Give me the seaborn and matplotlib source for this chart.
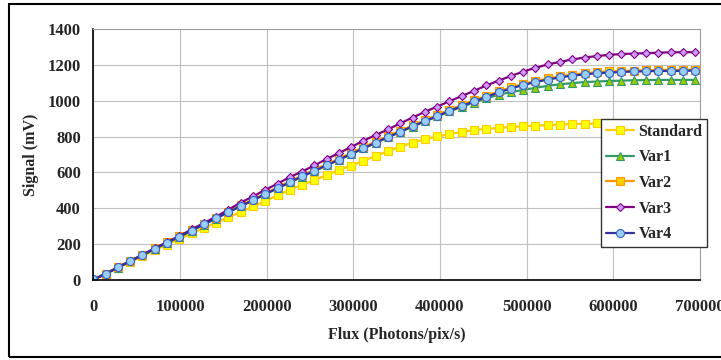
import numpy as np
import pandas as pd
import matplotlib
matplotlib.use("Agg")
import matplotlib.pyplot as plt
from matplotlib.patches import Rectangle
import seaborn as sns

flux = [0, 14170, 28340, 42510, 56680, 70850, 85020, 99190, 113360, 127530,
        141700, 155870, 170040, 184210, 198380, 212550, 226720, 240890, 255060, 269230,
        283400, 297570, 311740, 325910, 340080, 354250, 368420, 382590, 396760, 410930,
        425100, 439270, 453440, 467610, 481780, 495950, 510120, 524290, 538460, 552630,
        566800, 580970, 595140, 609310, 623480, 637650, 651820, 665990, 680160, 694330]

standard = [0, 33, 67, 100, 133, 166, 198, 228, 260, 290,
            320, 350, 380, 410, 440, 472, 503, 530, 557, 585,
            613, 638, 666, 692, 718, 744, 766, 786, 801, 814,
            826, 836, 843, 848, 853, 857, 861, 864, 867, 870,
            872, 873, 874, 875, 875, 875, 875, 875, 875, 875]

var1 = [2, 34, 69, 104, 138, 173, 207, 240, 275, 309,
        343, 378, 411, 444, 478, 511, 544, 577, 608, 639,
        670, 702, 734, 765, 796, 826, 856, 885, 912, 940,
        966, 990, 1013, 1033, 1048, 1060, 1072, 1083, 1092, 1098,
        1104, 1107, 1110, 1112, 1114, 1115, 1116, 1116, 1116, 1116]

var2 = [2, 35, 71, 106, 140, 176, 210, 243, 278, 313,
        347, 382, 416, 449, 483, 517, 550, 583, 615, 646,
        677, 709, 741, 772, 803, 833, 863, 892, 920, 949,
        976, 1002, 1027, 1052, 1074, 1094, 1110, 1124, 1136, 1146,
        1153, 1159, 1163, 1166, 1168, 1170, 1171, 1172, 1172, 1173]

var3 = [0, 35, 70, 106, 141, 177, 211, 245, 282, 318,
        353, 392, 432, 466, 503, 537, 574, 605, 639, 675,
        708, 742, 777, 809, 840, 874, 906, 938, 967, 997,
        1026, 1055, 1085, 1112, 1138, 1162, 1184, 1202, 1217, 1230,
        1241, 1249, 1256, 1260, 1263, 1265, 1268, 1270, 1270, 1271]

var4 = [3, 35, 70, 105, 139, 174, 208, 241, 276, 310,
        344, 379, 412, 445, 479, 512, 545, 578, 609, 640,
        671, 703, 735, 766, 797, 827, 857, 886, 914, 943,
        970, 996, 1021, 1046, 1068, 1088, 1104, 1118, 1130, 1140,
        1147, 1153, 1157, 1160, 1163, 1164, 1166, 1166, 1167, 1168]

series_names = ["Standard", "Var1", "Var2", "Var3", "Var4"]
x_ticks = [0, 100000, 200000, 300000, 400000, 500000, 600000, 700000]
y_ticks = [0, 200, 400, 600, 800, 1000, 1200, 1400]

sns.set_style("white")
plt.rcParams['font.family'] = ['Liberation Serif', 'DejaVu Serif']
plt.rcParams['font.weight'] = 'bold'

fig = plt.figure(figsize=(7.21, 3.6), dpi=100)
ax = fig.add_axes([93.3 / 721, 1 - 280 / 360, (700 - 93.3) / 721, (280 - 29) / 360])

styles = {
    "Standard": dict(color="#FFCC00", marker="s", mfc="#FFFF00", mec="#FFCC00", ms=5.5),
    "Var1": dict(color="#339966", marker="^", mfc="#99CC00", mec="#339966", ms=5.5),
    "Var2": dict(color="#FF9900", marker="s", mfc="#FFCC00", mec="#FF9900", ms=5.5),
    "Var3": dict(color="#800080", marker="D", mfc="#CC99FF", mec="#800080", ms=4.0),
    "Var4": dict(color="#333399", marker="o", mfc="#99CCFF", mec="#3366CC", ms=5.8),
}
data = {"Standard": standard, "Var1": var1, "Var2": var2, "Var3": var3, "Var4": var4}

for name in series_names:
    st = styles[name]
    sns.lineplot(x=flux, y=data[name], ax=ax, color=st["color"], linewidth=1.6,
                 marker=st["marker"], markerfacecolor=st["mfc"], markeredgecolor=st["mec"],
                 markeredgewidth=0.8, markersize=st["ms"], label=name, legend=False)

ax.set_xlim(0, 700000)
ax.set_ylim(0, 1400)
ax.set_xticks(x_ticks)
ax.set_xticklabels([str(v) for v in x_ticks])
ax.set_yticks(y_ticks)
ax.set_yticklabels([str(v) for v in y_ticks])
ax.grid(True, color="#C0C0C0", linewidth=0.8)
ax.set_axisbelow(True)
for s in ["top", "right"]:
    ax.spines[s].set_color("#A0A0A0")
    ax.spines[s].set_linewidth(0.8)
for s in ["left", "bottom"]:
    ax.spines[s].set_color("black")
    ax.spines[s].set_linewidth(1.2)

ax.tick_params(axis="both", which="major", labelsize=12, length=4, width=1, color="black",
               direction="out")
ax.tick_params(axis="x", pad=10)
ax.tick_params(axis="y", pad=5)
for lab in ax.get_xticklabels() + ax.get_yticklabels():
    lab.set_fontweight("bold")

ax.set_xlabel("Flux (Photons/pix/s)", fontsize=11.5, fontweight="bold", labelpad=8)
ax.set_ylabel("Signal (mV)", fontsize=11.5, fontweight="bold", labelpad=6)

handles, labels = ax.get_legend_handles_labels()
leg = fig.legend(handles, labels, loc="upper left",
                 bbox_to_anchor=(601 / 721, 1 - 119 / 360), bbox_transform=fig.transFigure,
                 frameon=True, fancybox=False, shadow=False, borderaxespad=0,
                 prop={"family": "Liberation Serif", "weight": "bold", "size": 11.5},
                 handlelength=1.75, handletextpad=0.3, labelspacing=0.6, borderpad=0.3)
leg.get_frame().set_edgecolor("#333333")
leg.get_frame().set_linewidth(1.0)
leg.get_frame().set_facecolor("white")
leg.get_frame().set_alpha(1)

fig.patches.append(Rectangle((9 / 721, 3 / 360), 720 / 721, 353 / 360, transform=fig.transFigure,
                             fill=False, edgecolor="black", linewidth=1.5, figure=fig))

fig.savefig("out.png", dpi=100)
